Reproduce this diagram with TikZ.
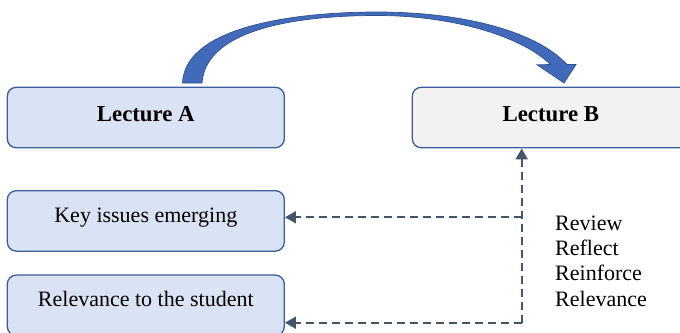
\documentclass[tikz,border=0pt]{standalone}
\usepackage{fontspec}
\setmainfont{Liberation Serif}
\usetikzlibrary{arrows.meta}

\definecolor{boxline}{RGB}{59,93,155}
\definecolor{boxblue}{RGB}{218,227,243}
\definecolor{boxgrey}{RGB}{242,242,242}
\definecolor{slate}{RGB}{68,84,106}
\definecolor{arrowfill}{RGB}{66,106,186}
\definecolor{arrowline}{RGB}{47,82,143}

\tikzset{
  lecbox/.style={draw=boxline, line width=1.3pt, rounded corners=9pt,
    minimum width=277pt, minimum height=60.5pt, inner sep=0pt,
    font=\fontsize{22}{26}\selectfont},
  titlebox/.style={lecbox, font=\fontsize{22.8}{26}\selectfont\bfseries,
    text height=15pt, text depth=6.2pt},
  itembox/.style={lecbox, fill=boxblue, text height=15pt, text depth=12.2pt},
  feedback/.style={draw=slate, line width=2pt, dash pattern=on 8pt off 5pt,
    -{Triangle[length=11pt,width=12pt]}},
  bigarrow/.style={fill=arrowfill, draw=arrowline, line width=0.7pt, line join=miter}
}

\begin{document}
\begin{tikzpicture}[x=1pt, y=-1pt]
  \useasboundingbox (0,0) rectangle (680,332);

  % lecture boxes
  \node[titlebox, fill=boxblue] (lecA) at (145.8,117.5) {Lecture A};
  \node[titlebox, fill=boxgrey] (lecB) at (550.8,117.5) {Lecture B};

  % outcome boxes
  \node[itembox] (issues) at (145.8,220.9) {Key issues emerging};
  \node[itembox] (relev) at (145.8,305.3) {Relevance to the student};

  % curved block arrow from Lecture A to Lecture B
  \draw[bigarrow]
    (182.5,83) .. controls (185,25) and (300,12) .. (377,12)
    .. controls (460,12) and (535,30) .. (567,64.5)
    -- (576,64.5) -- (564,83) -- (537,64.8) -- (550.5,64.5)
    .. controls (520,35) and (450,15.5) .. (377,15.5)
    .. controls (300,15.5) and (206,28) .. (202,83) -- cycle;

  % feedback connectors
  \coordinate (jmid) at (521.7,217.3);
  \coordinate (jlow) at (521.7,322.7);
  \draw[feedback] (jlow) -- (jlow |- lecB.south);
  \draw[feedback] (jmid) -- (jmid -| issues.east);
  \draw[feedback] (jlow) -- (jlow -| relev.east);

  % the four Rs
  \node[anchor=north west, inner sep=0pt, align=left,
        font=\fontsize{22}{25.3}\selectfont] (fourr) at (555,215.4)
    {Review\\Reflect\\Reinforce\\Relevance};
\end{tikzpicture}
\end{document}
